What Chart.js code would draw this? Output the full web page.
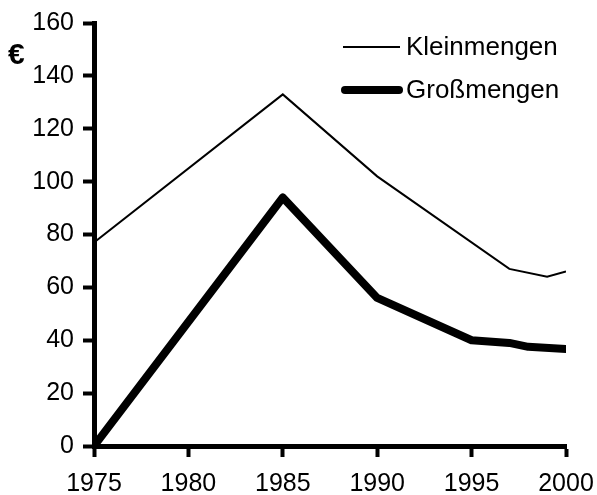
<!DOCTYPE html>
<html>
<head>
<meta charset="utf-8">
<script src="https://cdn.jsdelivr.net/npm/chart.js@4"></script>
<style>
  html, body { margin: 0; padding: 0; background: #fff; }
  #wrap { width: 597px; height: 495px; }
</style>
</head>
<body>
<div id="wrap"><canvas id="myChart" width="597" height="495"></canvas></div>
<script>
// data
var kleinYears  = [1975, 1985, 1990, 1997, 1999, 2000];
var kleinValues = [77, 133, 102, 67, 64, 66];
var grossYears  = [1975, 1985, 1990, 1995, 1997, 1998, 2000];
var grossValues = [0, 94, 56, 40, 39, 37.5, 36.7];
var seriesNames = ['Kleinmengen', 'Großmengen'];
var yUnit = '€';

var FONT = 'Arial, "Liberation Sans", sans-serif';

function toPoints(xs, ys) {
  return xs.map(function (x, i) { return { x: x, y: ys[i] }; });
}

// legend drawn inside the plot, top right, plus the unit label
var extras = {
  id: 'extras',
  afterDraw: function (chart) {
    var ctx = chart.ctx;
    ctx.save();
    ctx.fillStyle = '#000';
    ctx.font = '26px ' + FONT;
    ctx.textBaseline = 'middle';
    ctx.textAlign = 'left';
    var rows = [47, 90];
    chart.data.datasets.forEach(function (ds, i) {
      var y = rows[i];
      ctx.strokeStyle = '#000';
      ctx.lineWidth = ds.borderWidth;
      ctx.lineCap = ds.borderWidth > 3 ? 'round' : 'butt';
      ctx.beginPath();
      ctx.moveTo(ds.borderWidth > 3 ? 345 : 343, y);
      ctx.lineTo(ds.borderWidth > 3 ? 399 : 400, y);
      ctx.stroke();
      ctx.fillText(ds.label, 406, y + 1);
    });
    ctx.font = 'bold 30px ' + FONT;
    ctx.fillText(yUnit, 8, 56);
    ctx.restore();
  }
};

var ctx = document.getElementById('myChart').getContext('2d');
var myChart = new Chart(ctx, {
  type: 'line',
  data: {
    datasets: [
      {
        label: seriesNames[0],
        data: toPoints(kleinYears, kleinValues),
        borderColor: '#000',
        borderWidth: 2,
        pointRadius: 0,
        tension: 0,
        fill: false
      },
      {
        label: seriesNames[1],
        data: toPoints(grossYears, grossValues),
        borderColor: '#000',
        borderWidth: 8,
        borderCapStyle: 'round',
        borderJoinStyle: 'round',
        pointRadius: 0,
        tension: 0,
        fill: false
      }
    ]
  },
  options: {
    responsive: false,
    animation: false,
    layout: { padding: { left: 0, right: 31, top: 23, bottom: 0 } },
    plugins: { legend: { display: false }, tooltip: { enabled: false } },
    scales: {
      x: {
        type: 'linear',
        min: 1975,
        max: 2000,
        ticks: {
          stepSize: 5,
          color: '#000',
          font: { family: FONT, size: 25 },
          padding: 12,
          maxRotation: 0,
          callback: function (v) { return String(v); }
        },
        grid: { display: true, drawOnChartArea: false, drawTicks: true, tickLength: 11, tickWidth: 4, color: '#000' },
        border: { display: true, width: 5, color: '#000' },
        afterFit: function (scale) {
          scale.height = 49;
          scale.paddingLeft = 0;
          scale.paddingRight = 0;
        }
      },
      y: {
        min: 0,
        max: 160,
        ticks: {
          stepSize: 20,
          color: '#000',
          font: { family: FONT, size: 25 },
          padding: 9
        },
        grid: { display: true, drawOnChartArea: false, drawTicks: true, tickLength: 11, tickWidth: 4, color: '#000' },
        border: { display: true, width: 5, color: '#000' },
        afterFit: function (scale) {
          scale.width = 94;
          scale.paddingTop = 0;
          scale.paddingBottom = 0;
        }
      }
    }
  },
  plugins: [extras]
});
</script>
</body>
</html>
